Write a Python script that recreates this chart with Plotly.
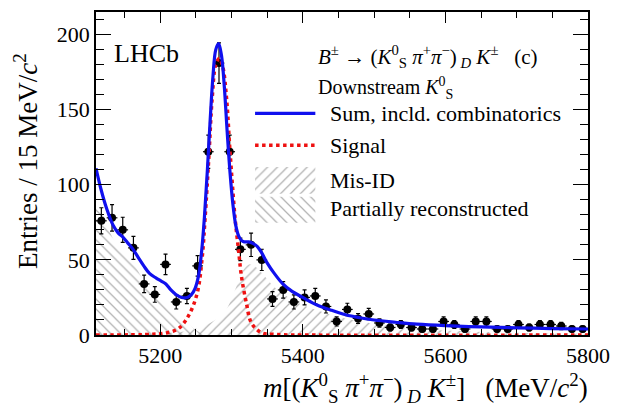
import numpy as np
import plotly.graph_objects as go

# ---------------- data ----------------
bin_low = 5110.0
bin_width = 15.0
counts = [76, 78, 70, 58, 34, 27, 47, 22, 26, 46,
          122, 181, 122, 57, 60, 50, 24, 30, 22, 25,
          26, 19, 9, 17, 11, 14, 8, 5, 7, 5,
          4, 4, 9, 7, 4, 9, 9, 4, 4, 7,
          5, 7, 7, 6, 4, 4]
bin_centers = [bin_low + bin_width * (i + 0.5) for i in range(len(counts))]

# total fit (sum incl. combinatorics)
sum_mass = [5110, 5117, 5125, 5134, 5141, 5148, 5155, 5162, 5170, 5177, 5185, 5194,
            5201, 5208, 5215, 5222, 5230, 5238, 5244, 5249, 5254, 5258, 5262, 5266,
            5270, 5274, 5278, 5282, 5286, 5290, 5294, 5298, 5302, 5306, 5310, 5314,
            5318, 5324, 5330, 5336, 5342, 5350, 5360, 5372, 5385, 5400, 5420, 5440,
            5460, 5480, 5500, 5530, 5560, 5600, 5650, 5700, 5750, 5800]
sum_vals = [111, 97, 84, 73, 68, 65, 61, 57, 51, 46, 41, 38,
            36, 34, 30, 27, 25, 25, 27, 31, 40, 55, 78, 108,
            142, 172, 190, 194, 186, 165, 135, 108, 87, 73, 66, 63,
            62, 62, 61, 59, 55, 48, 41, 34, 29, 25, 20, 16.5,
            13.5, 11.5, 10, 8.5, 7.2, 6.2, 5.4, 4.8, 4.3, 4]

# signal
sig_mass = [5110, 5190, 5210, 5226, 5240, 5252, 5259, 5263, 5268, 5273, 5278, 5283,
            5288, 5293, 5298, 5305, 5310, 5314, 5321, 5328, 5342, 5360, 5400, 5800]
sig_vals = [0, 0.5, 1.5, 4.4, 13, 28, 52, 78, 116, 158, 180, 184,
            178, 158, 122, 78, 56, 39, 21, 8, 1.5, 0.4, 0, 0]

# mis-identified background
misid_mass = [5110, 5200, 5240, 5270, 5290, 5305, 5315, 5325, 5335, 5345, 5360, 5380,
              5400, 5430, 5460, 5500, 5550, 5600, 5700, 5800]
misid_vals = [0.5, 1, 3, 8, 15, 30, 42, 47, 45, 40, 32, 25,
              20, 15, 11, 7.5, 4.5, 3, 1.5, 0.8]

# partially reconstructed background
part_mass = [5110, 5120, 5134, 5148, 5162, 5175, 5194, 5208, 5222, 5240, 5255, 5270]
part_vals = [89, 80, 64, 55, 48, 38, 28, 22, 15, 7, 2, 0]

x_range = [5110, 5800]
y_range = [0, 215]

FONT = "Liberation Serif"
HATCH = "#666666"
fig = go.Figure()

# plot-area pixel geometry (for legend / labels)
PL, PR, PT, PB = 96, 594, 10, 335

def xp(px):
    return (px - PL) / (PR - PL)

def yp(py):
    return (PB - py) / (PB - PT)

# hatched components
fig.add_trace(go.Scatter(x=part_mass, y=part_vals, mode="lines", line=dict(width=0, shape="spline"),
                         fill="tozeroy", fillcolor="rgba(0,0,0,0)",
                         fillpattern=dict(shape="\\", fgcolor=HATCH, bgcolor="rgba(0,0,0,0)",
                                          size=7, solidity=0.18),
                         hoverinfo="skip", showlegend=False))
fig.add_trace(go.Scatter(x=misid_mass, y=misid_vals, mode="lines", line=dict(width=0, shape="spline"),
                         fill="tozeroy", fillcolor="rgba(0,0,0,0)",
                         fillpattern=dict(shape="/", fgcolor=HATCH, bgcolor="rgba(0,0,0,0)",
                                          size=7, solidity=0.18),
                         hoverinfo="skip", showlegend=False))

# data points
fig.add_trace(go.Scatter(x=bin_centers, y=counts, mode="markers",
                         marker=dict(color="black", size=8),
                         error_y=dict(type="data", array=list(np.sqrt(counts)), color="black",
                                      thickness=1.2, width=2),
                         error_x=dict(type="data", array=[bin_width / 2] * len(counts), color="black",
                                      thickness=1.2, width=0),
                         showlegend=False))

# signal and sum curves
fig.add_trace(go.Scatter(x=sig_mass, y=sig_vals, mode="lines",
                         line=dict(color="#ee1111", width=3.5, dash="dot", shape="spline"),
                         showlegend=False))
fig.add_trace(go.Scatter(x=sum_mass, y=sum_vals, mode="lines",
                         line=dict(color="#1010ee", width=3.2, shape="spline"),
                         showlegend=False))

# ---------------- legend drawn in pixel overlay ----------------
def px_line(x0, x1, y, color, width, dash=None):
    fig.add_trace(go.Scatter(x=[x0, x1], y=[y, y], xaxis="x2", yaxis="y2", mode="lines",
                             line=dict(color=color, width=width, dash=dash),
                             hoverinfo="skip", showlegend=False))

def px_box(x0, x1, y0, y1, shape):
    fig.add_trace(go.Scatter(x=[x0, x1, x1, x0, x0], y=[y0, y0, y1, y1, y0], xaxis="x2", yaxis="y2",
                             mode="lines", line=dict(width=0), fill="toself",
                             fillcolor="rgba(0,0,0,0)",
                             fillpattern=dict(shape=shape, fgcolor=HATCH, bgcolor="rgba(0,0,0,0)",
                                              size=7, solidity=0.18),
                             hoverinfo="skip", showlegend=False))

px_line(257, 318, 112, "#1010ee", 3.2)
px_line(257, 318, 144, "#ee1111", 3.5, "dot")
px_box(257, 318, 166, 193, "/")
px_box(257, 318, 196, 222, "\\")

ann = []
def txt(x, y, s, size=19, xanchor="left", yanchor="middle", angle=0):
    ann.append(dict(x=xp(x), y=yp(y), xref="paper", yref="paper", text=s, showarrow=False,
                    xanchor=xanchor, yanchor=yanchor, textangle=angle,
                    font=dict(family=FONT, size=size, color="black")))

txt(331, 112, "Sum, incld. combinatorics", size=22)
txt(331, 144, "Signal", size=22)
txt(331, 180, "Mis-ID", size=22)
txt(331, 208, "Partially reconstructed", size=22)
txt(319, 55, "<i>B</i><sup>±</sup> → (<i>K</i><sup>0</sup><sub>S</sub> <i>π</i><sup>+</sup><i>π</i><sup>−</sup>)<sub> <i>D</i></sub> <i>K</i><sup>±</sup>   (c)", size=21)
txt(319, 86, "Downstream <i>K</i><sup>0</sup><sub>S</sub>", size=20)
txt(112, 52, "LHCb", size=26)
txt(25, 160, "Entries / 15 MeV/<i>c</i><sup>2</sup>", size=27, xanchor="center", angle=-90)
txt(596, 388, "<i>m</i>[(<i>K</i><sup>0</sup><sub>S</sub> <i>π</i><sup>+</sup><i>π</i><sup>−</sup>)<sub> <i>D</i></sub> <i>K</i><sup>±</sup>]   (MeV/<i>c</i><sup>2</sup>)",
    size=27, xanchor="right")

axis_common = dict(showgrid=False, zeroline=False, showline=True, linecolor="black", linewidth=1.6,
                   mirror="ticks", ticks="inside", tickcolor="black", tickwidth=1.3,
                   tickfont=dict(family=FONT, size=22, color="black"))

fig.update_layout(
    width=620, height=409,
    margin=dict(l=PL, r=620 - PR, t=PT, b=409 - PB),
    paper_bgcolor="white", plot_bgcolor="white",
    font=dict(family=FONT, color="black"),
    showlegend=False,
    xaxis=dict(range=x_range, tick0=5200, dtick=200, ticklen=11,
               minor=dict(ticks="inside", dtick=50, tick0=5200, ticklen=6, tickcolor="black", tickwidth=1.1),
               **axis_common),
    yaxis=dict(range=y_range, tick0=0, dtick=50, ticklen=15,
               minor=dict(ticks="inside", dtick=10, ticklen=8, tickcolor="black", tickwidth=1.1),
               **axis_common),
    xaxis2=dict(range=[PL, PR], overlaying="x", visible=False, fixedrange=True),
    yaxis2=dict(range=[PB, PT], overlaying="y", visible=False, fixedrange=True),
    annotations=ann,
)

fig.write_html("out.html")
